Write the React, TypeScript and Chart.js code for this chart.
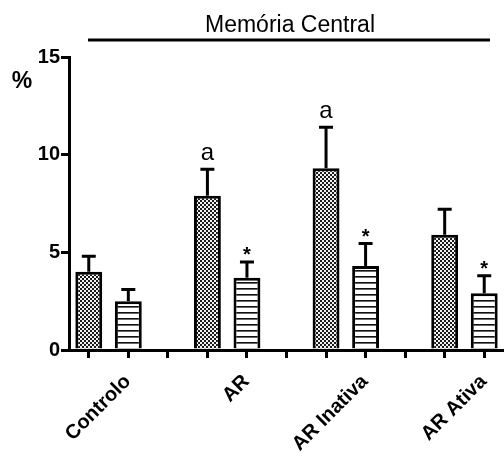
import React, { useEffect, useRef } from 'react';
import { Chart, registerables } from 'chart.js';

Chart.register(...registerables);

// Groups and their two measurements (mean and SEM), one pair of bars per group
const groups = ['Controlo', 'AR', 'AR Inativa', 'AR Ativa'];
const meanChecked = [4.0, 7.9, 9.3, 5.9];
const semChecked = [0.8, 1.35, 2.1, 1.3];
const meanStriped = [2.5, 3.7, 4.3, 2.9];
const semStriped = [0.6, 0.8, 1.15, 0.9];
const markChecked = ['', 'a', 'a', ''];
const markStriped = ['', '*', '*', '*'];
const yTicks = [0, 5, 10, 15];

const TITLE = 'Memória Central';
const Y_UNIT = '%';
const FONT = '"Liberation Sans", Arial, sans-serif';

// Each group takes three slots (checked bar, striped bar, gap); the last group has no gap.
const slotLabels: string[] = [];
const slotChecked: (number | null)[] = [];
const slotStriped: (number | null)[] = [];
const slotSemChecked: (number | null)[] = [];
const slotSemStriped: (number | null)[] = [];
const slotMarkChecked: string[] = [];
const slotMarkStriped: string[] = [];
groups.forEach((g, i) => {
  const last = i === groups.length - 1;
  const slots = last ? 2 : 3;
  for (let s = 0; s < slots; s++) {
    slotLabels.push(s === 0 ? g : '');
    slotChecked.push(s === 0 ? meanChecked[i] : null);
    slotStriped.push(s === 1 ? meanStriped[i] : null);
    slotSemChecked.push(s === 0 ? semChecked[i] : null);
    slotSemStriped.push(s === 1 ? semStriped[i] : null);
    slotMarkChecked.push(s === 0 ? markChecked[i] : '');
    slotMarkStriped.push(s === 1 ? markStriped[i] : '');
  }
});
const slotSems = [slotSemChecked, slotSemStriped];
const slotMarks = [slotMarkChecked, slotMarkStriped];

function checkerPattern(ctx: CanvasRenderingContext2D) {
  const c = document.createElement('canvas');
  c.width = 4;
  c.height = 4;
  const g = c.getContext('2d')!;
  g.fillStyle = '#f2f2f2';
  g.fillRect(0, 0, 4, 4);
  g.fillStyle = '#1a1a1a';
  g.fillRect(0, 0, 2, 2);
  g.fillRect(2, 2, 2, 2);
  return ctx.createPattern(c, 'repeat')!;
}

function stripePattern(ctx: CanvasRenderingContext2D) {
  const c = document.createElement('canvas');
  c.width = 6;
  c.height = 6;
  const g = c.getContext('2d')!;
  g.fillStyle = '#fff';
  g.fillRect(0, 0, 6, 6);
  g.fillStyle = '#111';
  g.fillRect(0, 0, 6, 1);
  g.fillStyle = '#666';
  g.fillRect(0, 1, 6, 1);
  return ctx.createPattern(c, 'repeat')!;
}

// Error bars, significance marks, heading with its rule, and the unit label
const decorations = {
  id: 'decorations',
  afterDatasetsDraw(chart: any) {
    const ctx: CanvasRenderingContext2D = chart.ctx;
    const y = chart.scales.y;
    ctx.save();
    ctx.strokeStyle = '#000';
    ctx.fillStyle = '#000';
    ctx.lineWidth = 3;
    chart.data.datasets.forEach((ds: any, di: number) => {
      const meta = chart.getDatasetMeta(di);
      ds.data.forEach((v: number | null, i: number) => {
        if (v == null) return;
        const bar = meta.data[i];
        const err = slotSems[di][i] as number;
        const top = y.getPixelForValue(v + err);
        ctx.beginPath();
        ctx.moveTo(bar.x, y.getPixelForValue(v));
        ctx.lineTo(bar.x, top);
        ctx.moveTo(bar.x - 7, top);
        ctx.lineTo(bar.x + 7, top);
        ctx.stroke();
        const mark = slotMarks[di][i];
        if (mark) {
          ctx.textAlign = 'center';
          ctx.textBaseline = 'alphabetic';
          if (mark === '*') {
            ctx.font = `bold 20px ${FONT}`;
            ctx.fillText(mark, bar.x, top - 1);
          } else {
            ctx.font = `24px ${FONT}`;
            ctx.fillText(mark, bar.x, top - 9);
          }
        }
      });
    });
    ctx.restore();
  },
  afterDraw(chart: any) {
    const ctx: CanvasRenderingContext2D = chart.ctx;
    ctx.save();
    ctx.fillStyle = '#000';
    ctx.strokeStyle = '#000';
    ctx.font = `23px ${FONT}`;
    ctx.textAlign = 'center';
    ctx.textBaseline = 'alphabetic';
    ctx.fillText(TITLE, 290, 32);
    ctx.lineWidth = 3;
    ctx.beginPath();
    ctx.moveTo(88, 40);
    ctx.lineTo(490, 40);
    ctx.stroke();
    ctx.font = `bold 23px ${FONT}`;
    ctx.fillText(Y_UNIT, 22, 88);
    ctx.restore();
  },
};

export default function App() {
  const ref = useRef<HTMLCanvasElement>(null);

  useEffect(() => {
    document.body.style.margin = '0';
    const canvas = ref.current!;
    const ctx = canvas.getContext('2d')!;
    const chart = new Chart(ctx, {
      type: 'bar',
      data: {
        labels: slotLabels,
        datasets: [
          {
            data: slotChecked,
            backgroundColor: checkerPattern(ctx),
            borderColor: '#000',
            borderWidth: 3,
            grouped: false,
            categoryPercentage: 1,
            barPercentage: 0.68,
          } as any,
          {
            data: slotStriped,
            backgroundColor: stripePattern(ctx),
            borderColor: '#000',
            borderWidth: 3,
            grouped: false,
            categoryPercentage: 1,
            barPercentage: 0.68,
          } as any,
        ],
      },
      options: {
        responsive: false,
        animation: false,
        devicePixelRatio: 1,
        layout: { padding: { top: 57, right: 0, left: 0, bottom: 0 } },
        plugins: {
          legend: { display: false },
          tooltip: { enabled: false },
          title: { display: false },
        },
        scales: {
          x: {
            type: 'category',
            offset: true,
            afterFit(scale: any) {
              scale.height = 108;
              scale.paddingLeft = 0;
              scale.paddingRight = 0;
            },
            grid: {
              display: true,
              offset: false,
              drawOnChartArea: false,
              drawTicks: true,
              tickLength: 8,
              lineWidth: 3,
              color: '#000',
            },
            border: { display: true, width: 3, color: '#000' },
            ticks: {
              autoSkip: false,
              minRotation: 45,
              maxRotation: 45,
              labelOffset: 39,
              padding: 12,
              color: '#000',
              font: { family: FONT, size: 20, weight: 'bold' },
            },
          },
          y: {
            min: 0,
            max: 15,
            afterFit(scale: any) {
              scale.width = 69;
            },
            afterBuildTicks(scale: any) {
              scale.ticks = yTicks.map((v) => ({ value: v }));
            },
            grid: {
              display: true,
              drawOnChartArea: false,
              drawTicks: true,
              tickLength: 8,
              lineWidth: 3,
              color: '#000',
            },
            border: { display: true, width: 3, color: '#000' },
            ticks: {
              padding: 1,
              color: '#000',
              font: { family: FONT, size: 20, weight: 'bold' },
            },
          },
        },
      },
      plugins: [decorations],
    });
    return () => chart.destroy();
  }, []);

  return <canvas ref={ref} width={504} height={458} style={{ display: 'block' }} />;
}
